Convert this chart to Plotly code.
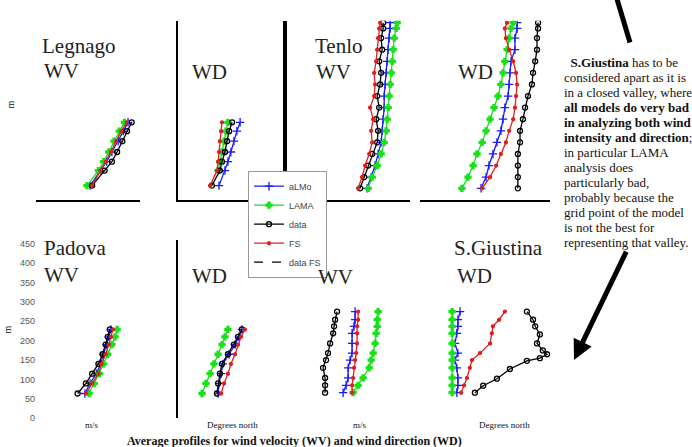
import plotly.graph_objects as go

W, H = 692, 447

# ---------------- data ----------------
SERIES = ["aLMo", "LAMA", "data", "FS"]

# Legnago
leg_h = [38, 77, 100, 125, 153, 179, 202]
leg_wv_almo = [5.2, 6.25, 6.8, 7.3, 7.9, 8.4, 8.85]
leg_wv_lama = [4.9, 6.0, 6.5, 7.0, 7.5, 8.0, 8.5]
leg_wv_data = [5.4, 6.6, 7.3, 7.8, 8.3, 8.75, 9.2]
leg_wv_fs = [5.4, 6.2, 6.7, 7.2, 7.7, 8.2, 8.75]
leg_wd_almo = [138, 158, 168, 178, 188, 198, 209]
leg_wd_lama = [None, 135, 141, 148, 155, 161, 168]
leg_wd_data = [114, 141, 148, 158, 165, 172, 182]
leg_wd_fs = [108, 131, 135, 138, 141, 145, 148]

# Tenlo
ten_h = [31, 60, 90, 120, 150, 180, 210, 240, 270, 300, 330, 360, 390, 420, 445, 460]
ten_wv_almo = [7.88, 8.27, 8.65, 8.94, 9.23, 9.33, 9.42, 9.52, 9.52, 9.62, 9.71, 9.81, 9.9, 10.0, 10.1, 10.1]
ten_wv_lama = [7.98, 8.37, 8.85, 9.23, 9.52, 9.71, 9.81, 9.9, 10.0, 10.1, 10.2, 10.29, 10.38, 10.48, 10.67, 10.77]
ten_wv_data = [7.21, 7.6, 7.98, 8.37, 8.85, 8.94, 8.75, 9.04, 8.85, 9.13, 9.23, 9.04, 9.33, 9.23, 9.42, 9.42]
ten_wv_fs = [7.02, 7.40, 7.69, 8.08, 8.37, 8.27, 8.46, 8.17, 8.56, 8.65, 8.56, 8.75, 8.85, 8.94, 9.04, 9.13]
ten_wd_almo = [169, 183, 191, 202, 213, 224, 230, 235, 244, 247, 249, 252, 263, 263, 269, 269]
ten_wd_lama = [116, 133, 147, 158, 172, 183, 194, 205, 216, 224, 230, 235, 241, 247, 252, 258]
ten_wd_data = [271, 271, 271, 271, 277, 277, 285, 291, 299, 310, 313, 319, 324, 324, 327, 327]
ten_wd_fs = [172, 194, 211, 224, 238, 247, 258, 263, 266, 269, 266, 258, 247, 238, 235, 241]

# Padova
pad_h = [64, 90, 115, 140, 165, 190, 210, 229]
pad_wv_almo = [4.7, 5.2, 5.8, 6.2, 6.5, 6.8, 7.0, 7.2]
pad_wv_lama = [5.1, 5.6, 6.1, 6.5, 6.9, 7.3, 7.6, 7.8]
pad_wv_data = [4.0, 4.8, 5.4, 6.0, 6.4, 6.7, 6.9, 7.1]
pad_wv_fs = [4.8, 5.4, 6.0, 6.3, 6.7, 7.0, 7.2, 7.4]
pad_wd_almo = [135, 138, 145, 151, 172, 192, 205, 215]
pad_wd_lama = [81, 94, 108, 121, 135, 148, 158, 168]
pad_wd_data = [131, 135, 141, 148, 168, 188, 202, 215]
pad_wd_fs = [145, 155, 168, 178, 192, 202, 212, 225]

# S.Giustina
sg_h = [66, 85, 104, 130, 150, 168, 193, 219, 237, 254, 275]
sg_wv_almo = [5.58, 5.87, 6.06, 6.06, 6.25, 6.44, 6.44, 6.44, 6.63, 6.73, 6.73]
sg_wv_lama = [6.54, 7.02, 7.5, 8.08, 8.27, 8.46, 8.65, 8.75, 8.85, 8.85, 8.94]
sg_wv_data = [3.85, 3.85, 3.85, 3.65, 3.94, 4.13, 4.33, 4.62, 4.71, 4.81, 5.0]
sg_wv_fs = [6.44, 6.44, 6.54, 6.63, 6.73, 6.83, 6.92, 6.92, 6.92, 7.02, 7.02]
sg_wd_almo = [102, 105, 105, 102, 97, 105, 97, 102, 105, 105, 111]
sg_wd_lama = [89, 89, 89, 89, 89, 89, 89, 89, 89, 89, 89]
sg_wd_fs = [114, 122, 130, 138, 144, 166, 194, 199, 202, 219, 235]
sg_wd_data_h = [66, 84, 102, 127, 148, 155, 165, 175, 193, 216, 237, 254, 275]
sg_wd_data = [152, 175, 213, 249, 296, 332, 352, 340, 324, 332, 319, 313, 296]

pad_ticks = [0, 50, 100, 150, 200, 250, 300, 350, 400, 450]

# ---------------- layout helpers ----------------
def px(x):
    return x / W

def py(y):
    return 1 - y / H

COLS = [(36, 140), (178, 285), (285, 410), (420, 550)]
ROWS = [(20, 202), (242, 423)]
XR = [[0, 10], [0, 360], [0, 12], [0, 360]]
YR = [[0, 465], [0, 460]]

STY = {
    "aLMo": dict(color="#1a1aff", symbol="cross-thin-open", size=6),
    "LAMA": dict(color="#19e019", symbol="cross", size=5),
    "data": dict(color="#000000", symbol="circle-open", size=5),
    "FS": dict(color="#e01f1f", symbol="circle", size=3),
}

panels = [
    (0, 0, [leg_h] * 4, [leg_wv_almo, leg_wv_lama, leg_wv_data, leg_wv_fs]),
    (0, 1, [leg_h] * 4, [leg_wd_almo, leg_wd_lama, leg_wd_data, leg_wd_fs]),
    (0, 2, [ten_h] * 4, [ten_wv_almo, ten_wv_lama, ten_wv_data, ten_wv_fs]),
    (0, 3, [ten_h] * 4, [ten_wd_almo, ten_wd_lama, ten_wd_data, ten_wd_fs]),
    (1, 0, [pad_h] * 4, [pad_wv_almo, pad_wv_lama, pad_wv_data, pad_wv_fs]),
    (1, 1, [pad_h] * 4, [pad_wd_almo, pad_wd_lama, pad_wd_data, pad_wd_fs]),
    (1, 2, [sg_h] * 4, [sg_wv_almo, sg_wv_lama, sg_wv_data, sg_wv_fs]),
    (1, 3, [sg_h, sg_h, sg_wd_data_h, sg_h], [sg_wd_almo, sg_wd_lama, sg_wd_data, sg_wd_fs]),
]

fig = go.Figure()
layout = dict(
    width=W, height=H, margin=dict(l=0, r=0, t=0, b=0),
    paper_bgcolor="white", plot_bgcolor="white",
    font=dict(family="Liberation Serif", color="#111"),
)

AXLINES = {0: (True, False), 1: (True, True), 2: (True, True), 3: (True, False),
           4: (False, False), 5: (False, True), 6: (False, False), 7: (False, False)}

for i, (r, c, hs, vals) in enumerate(panels):
    n = i + 1
    xa = "x" if n == 1 else f"x{n}"
    ya = "y" if n == 1 else f"y{n}"
    for name, h, v in zip(SERIES, hs, vals):
        s = STY[name]
        fig.add_trace(go.Scatter(
            x=v, y=h, xaxis=xa, yaxis=ya, name=name, mode="lines+markers",
            line=dict(color=s["color"], width=1.3),
            marker=dict(symbol=s["symbol"], size=s["size"], color=s["color"],
                        line=dict(color=s["color"], width=1.3)),
            showlegend=(n == 1), legendrank=SERIES.index(name) + 1,
        ))
    x0, x1 = COLS[c]
    y0, y1 = ROWS[r]
    showx, showy = AXLINES[i]
    xkey = "xaxis" if n == 1 else f"xaxis{n}"
    ykey = "yaxis" if n == 1 else f"yaxis{n}"
    layout[xkey] = dict(domain=[px(x0), px(x1)], range=XR[c], anchor=ya,
                        showgrid=False, zeroline=False, showticklabels=False,
                        showline=showx, linecolor="black", linewidth=2, ticks="")
    yd = dict(domain=[py(y1), py(y0)], range=YR[r], anchor=xa,
              showgrid=False, zeroline=False, showticklabels=False,
              showline=showy, linecolor="black", linewidth=2, ticks="")
    if i == 4:
        yd.update(showticklabels=True, tickvals=pad_ticks,
                  tickfont=dict(family="Liberation Sans", size=9, color="#555"))
    if i == 1:
        yd.update(mirror=True)
    layout[ykey] = yd

fig.add_trace(go.Scatter(x=[None], y=[None], mode="lines", name="data FS",
                         line=dict(color="black", width=1.3, dash="dash"),
                         legendrank=5))

layout["legend"] = dict(
    x=px(248), y=py(172), xanchor="left", yanchor="top",
    bgcolor="white", bordercolor="#999", borderwidth=1,
    font=dict(family="Liberation Sans", size=9, color="#444"),
    itemwidth=30, tracegroupgap=0,
)

ann = []
def text(x, y, t, size, anchor="left", family="Liberation Serif", color="#111", angle=0):
    ann.append(dict(x=px(x), y=py(y), xref="paper", yref="paper", text=t,
                    showarrow=False, xanchor=anchor, yanchor="middle", textangle=angle,
                    font=dict(family=family, size=size, color=color)))

for (x, y, t) in [(40, 46, "Legnago"), (42, 71, "WV"), (190, 72, "WD"),
                  (313, 46, "Tenlo"), (314, 72, "WV"), (456, 72, "WD"),
                  (42, 250, "Padova"), (42, 278, "WV"), (190, 279, "WD"),
                  (316, 280, "WV"), (452, 250, "S.Giustina"), (455, 279, "WD")]:
    text(x, y, t, 21, color="#222")

text(11, 105, "m", 10, anchor="center", angle=-90)
text(8, 333, "m", 10, anchor="center", angle=-90)
text(92, 430, "m/s", 9, anchor="center")
text(232, 430, "Degrees north", 9, anchor="center")
text(360, 430, "m/s", 9, anchor="center")
text(504, 430, "Degrees north", 9, anchor="center")

text(294, 446, "<b>Average profiles for wind velocity (WV) and wind direction (WD)</b>", 12, anchor="center")

note = [
    "  <b>S.Giustina</b> has to be",
    "considered apart as it is",
    "in a closed valley, where",
    "<b>all models do very bad</b>",
    "<b>in analyzing both wind</b>",
    "<b>intensity and direction</b>;",
    "in particular LAMA",
    "analysis does",
    "particularly bad,",
    "probably because the",
    "grid point of the model",
    "is not the best for",
    "representing that valley.",
]
for k, line in enumerate(note):
    text(562, 62 + k * 15.25, line, 13)

ann.append(dict(x=px(574), y=py(364), xref="paper", yref="paper", text="",
                showarrow=True, ax=627 - 574, ay=254 - 364, arrowhead=2,
                arrowsize=0.8, arrowwidth=5, arrowcolor="black"))
layout["annotations"] = ann
layout["shapes"] = [dict(type="line", xref="paper", yref="paper",
                         x0=px(617), y0=py(-2), x1=px(630), y1=py(42),
                         line=dict(color="black", width=5))]

fig.update_layout(**layout)
fig.write_html("out.html", config={"displayModeBar": False},
               post_script="document.body.style.margin='0';document.body.style.padding='0';")
